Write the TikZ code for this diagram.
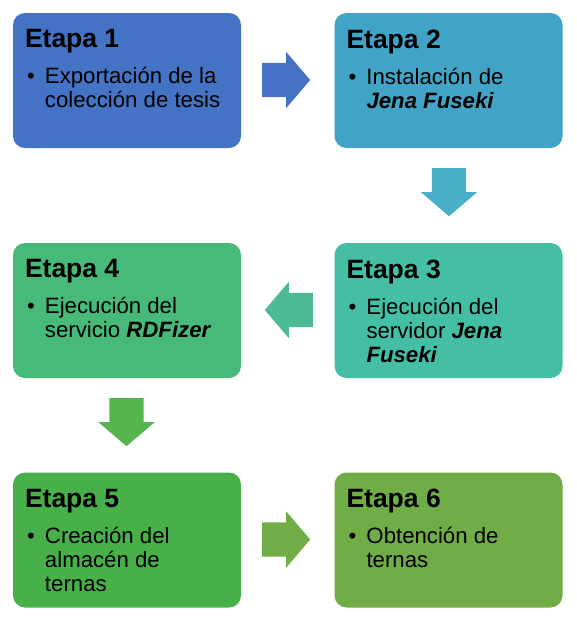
\documentclass[tikz,border=0pt]{standalone}
\usepackage{fontspec}
\setmainfont{Liberation Sans}
\usepackage{tikz}
\usetikzlibrary{shapes.arrows, positioning}

\definecolor{etapaA}{HTML}{4472C4}
\definecolor{etapaB}{HTML}{41A3C5}
\definecolor{etapaC}{HTML}{44BFA3}
\definecolor{etapaD}{HTML}{47B978}
\definecolor{etapaE}{HTML}{47B049}
\definecolor{etapaF}{HTML}{70AD47}
\definecolor{flechaA}{HTML}{4472C4}
\definecolor{flechaB}{HTML}{4AAFC9}
\definecolor{flechaC}{HTML}{4CBB93}
\definecolor{flechaD}{HTML}{55B64F}
\definecolor{flechaE}{HTML}{70AD47}

\newcommand{\etapa}[2]{%
  \spaceskip=0pt\xspaceskip=0pt%
  {\fontsize{26.5}{30}\selectfont\bfseries #1\par}\vspace{12pt}%
  {\fontsize{22.2}{24}\selectfont\hangindent=20pt\hangafter=1\noindent\makebox[20pt][l]{\hspace{2pt}\textbullet}#2\par}}
\newcommand{\jf}[1]{\textbf{\textit{#1}}}

\tikzset{
  etapabox/.style={rounded corners=12pt, minimum width=228pt, minimum height=135pt, inner sep=0pt},
  etapatext/.style={inner sep=0pt, text width=205pt, align=left},
  flecha/.style={single arrow, single arrow head extend=11pt, single arrow tip angle=99,
    minimum height=48pt, inner xsep=0pt, inner ysep=17pt, text height=0pt, text depth=0pt, anchor=tail}
}

\begin{document}
\begin{tikzpicture}[x=1pt, y=-1pt]
  \useasboundingbox (0,0) rectangle (577,622);

  % Stage boxes
  \node[etapabox, fill=etapaA] (b1) at (127,80.5) {};
  \node[etapabox, fill=etapaB] (b2) at (448.5,80.5) {};
  \node[etapabox, fill=etapaC] (b3) at (448.5,310.5) {};
  \node[etapabox, fill=etapaD] (b4) at (127,310.5) {};
  \node[etapabox, fill=etapaE] (b5) at (127,540) {};
  \node[etapabox, fill=etapaF] (b6) at (448.5,540) {};

  % Stage texts
  \node[etapatext, below right=16.5pt and 12pt of b1.north west] (t1) {\etapa{Etapa 1}{Exportación de la\newline colección de tesis}};
  \node[etapatext, below right=16.5pt and 12pt of b2.north west] (t2) {\etapa{Etapa 2}{Instalación de\newline \jf{Jena Fuseki}}};
  \node[etapatext, below right=16.5pt and 12pt of b3.north west] (t3) {\etapa{Etapa 3}{Ejecución del\newline servidor \jf{Jena}\newline \jf{Fuseki}}};
  \node[etapatext, below right=16.5pt and 12pt of b4.north west] (t4) {\etapa{Etapa 4}{Ejecución del\newline servicio \jf{RDFizer}}};
  \node[etapatext, below right=16.5pt and 12pt of b5.north west] (t5) {\etapa{Etapa 5}{Creación del\newline almacén de\newline ternas}};
  \node[etapatext, below right=16.5pt and 12pt of b6.north west] (t6) {\etapa{Etapa 6}{Obtención de\newline ternas}};

  % Block arrows
  \node[flecha, fill=flechaA] (f1) at (262,80) {};
  \node[flecha, fill=flechaB, rotate=-90] (f2) at (449,168) {};
  \node[flecha, fill=flechaC, rotate=180] (f3) at (313,310) {};
  \node[flecha, fill=flechaD, rotate=-90] (f4) at (126.5,398) {};
  \node[flecha, fill=flechaE] (f5) at (262,539.5) {};
\end{tikzpicture}
\end{document}
